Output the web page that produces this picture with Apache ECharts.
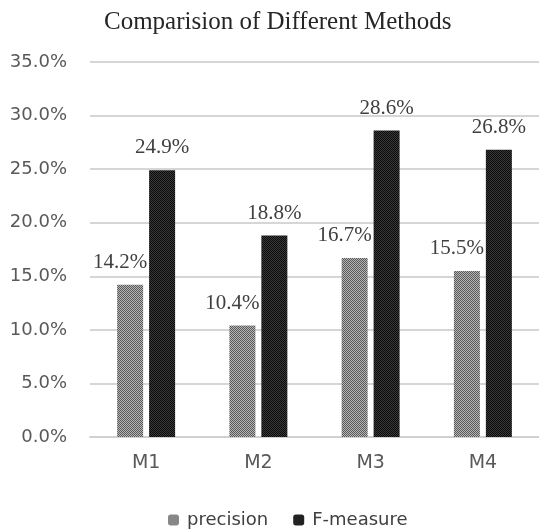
<!DOCTYPE html>
<html><head><meta charset="utf-8">
<script src="https://cdn.jsdelivr.net/npm/echarts@6/dist/echarts.min.js"></script>
<style>html,body{margin:0;padding:0;background:#fff}#c{width:539px;height:531px}</style>
</head><body><div id="c"></div>
<script>
const categories = ['M1', 'M2', 'M3', 'M4'];
const precision = [14.2, 10.4, 16.7, 15.5];
const fMeasure = [24.9, 18.8, 28.6, 26.8];
const seriesNames = ['precision', 'F-measure'];

function makePattern(fg, bg) {
  const c = document.createElement('canvas');
  c.width = 2; c.height = 2;
  const ctx = c.getContext('2d');
  ctx.fillStyle = bg; ctx.fillRect(0, 0, 2, 2);
  ctx.fillStyle = fg; ctx.fillRect(0, 0, 1, 1); ctx.fillRect(1, 1, 1, 1);
  return { image: c, repeat: 'repeat' };
}
const patP = makePattern('#5a5a5a', '#b4b4b4');
const patF = makePattern('#0a0a0a', '#3a3a3a');

const chart = echarts.init(document.getElementById('c'), null, { renderer: 'canvas' });
const labelBase = {
  show: true, position: 'top', distance: 12,
  fontFamily: '"Liberation Serif", "Times New Roman", serif', fontSize: 21, color: '#404040',
  formatter: p => p.value.toFixed(1) + '%'
};
const sans = '"DejaVu Sans", sans-serif';
chart.setOption({
  animation: false,
  title: {
    text: 'Comparision of Different Methods', left: 99, top: 5,
    textStyle: { fontFamily: '"Liberation Serif", serif', fontSize: 25, fontWeight: 'normal', color: '#262626' }
  },
  grid: { left: 90, top: 62, width: 451, bottom: 94, containLabel: false },
  legend: {
    bottom: -3, left: 163, itemWidth: 11, itemHeight: 11, itemGap: 25,
    data: seriesNames,
    textStyle: { fontFamily: sans, fontSize: 18, color: '#404040', padding: [0, 0, 0, 3] }
  },
  xAxis: {
    type: 'category', data: categories,
    axisLine: { lineStyle: { color: '#d0d0d0', width: 2 } },
    axisTick: { show: false },
    axisLabel: { fontFamily: sans, fontSize: 19, color: '#595959', margin: 17 }
  },
  yAxis: {
    type: 'value', min: 0, max: 35, interval: 5,
    axisLine: { show: false }, axisTick: { show: false },
    splitLine: { lineStyle: { color: '#d6d6d6', width: 2 } },
    axisLabel: { fontFamily: sans, fontSize: 18, color: '#595959', margin: 23,
      formatter: v => v.toFixed(1) + '%' }
  },
  series: [
    { name: seriesNames[0], type: 'bar', data: precision, barWidth: 26, barGap: '23%',
      itemStyle: { color: patP }, label: Object.assign({}, labelBase, { offset: [-10, 0] }) },
    { name: seriesNames[1], type: 'bar', data: fMeasure, barWidth: 26,
      itemStyle: { color: patF }, label: labelBase }
  ]
});
</script></body></html>
